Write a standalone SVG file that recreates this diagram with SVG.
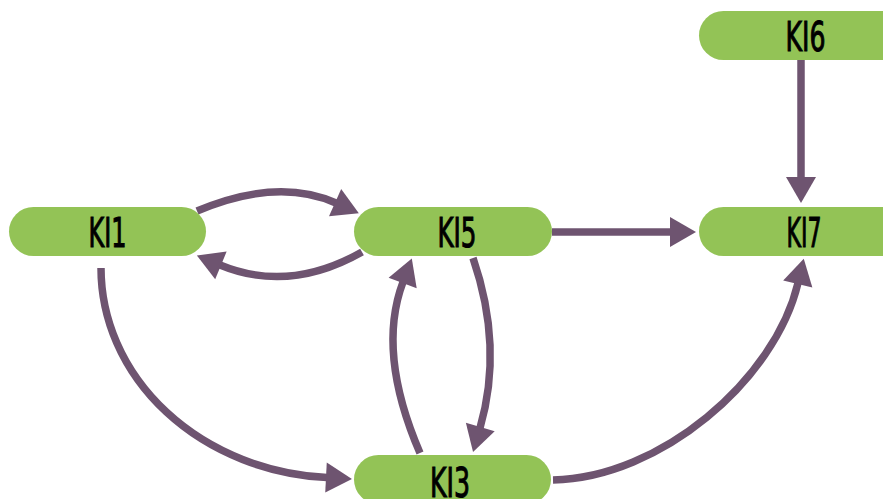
<svg xmlns="http://www.w3.org/2000/svg" width="883" height="499" viewBox="0 0 883 499">
<style>
.node rect{fill:#93c356;}
.node text{font-family:"DejaVu Sans Condensed","DejaVu Sans",sans-serif;font-size:40px;fill:#000;stroke:#000;stroke-width:1;text-anchor:middle;}
.edge{fill:none;stroke:#6e5470;stroke-width:7.5;}
</style>
<defs>
<marker id="arr" markerUnits="userSpaceOnUse" markerWidth="27" markerHeight="31" refX="1" refY="15" orient="auto" overflow="visible">
<path d="M0,0 L26,15 L0,30 z" fill="#6e5470"/>
</marker>
</defs>
<rect width="883" height="499" fill="#fff"/>
<g id="connectors">
<path class="edge" marker-end="url(#arr)" d="M197,211 Q277.5,177 336,203"/>
<path class="edge" marker-end="url(#arr)" d="M362,252 Q289,293.5 220,265"/>
<path class="edge" marker-end="url(#arr)" d="M552,232 L671,232"/>
<path class="edge" marker-end="url(#arr)" d="M801,60 L801,178"/>
<path class="edge" marker-end="url(#arr)" d="M101,268 A240,210 0 0 0 327,477.6"/>
<path class="edge" marker-end="url(#arr)" d="M420,453 Q376.5,352.5 403,282"/>
<path class="edge" marker-end="url(#arr)" d="M473,258 Q503.5,347 480,428"/>
<path class="edge" marker-end="url(#arr)" d="M553,480 C660,478 775,380 798,283"/>
</g>
<g id="KI1" class="node"><rect x="9" y="207" width="197" height="49" rx="24.5"/><text x="107.5" y="247" textLength="38" lengthAdjust="spacingAndGlyphs">KI1</text></g>
<g id="KI5" class="node"><rect x="354" y="207" width="198" height="49" rx="24.5"/><text x="457" y="247" textLength="39" lengthAdjust="spacingAndGlyphs">KI5</text></g>
<g id="KI6" class="node"><rect x="699" y="11" width="212" height="49" rx="24.5"/><text x="805.5" y="51" textLength="40" lengthAdjust="spacingAndGlyphs">KI6</text></g>
<g id="KI7" class="node"><rect x="699" y="207" width="212" height="49" rx="24.5"/><text x="804" y="247" textLength="35" lengthAdjust="spacingAndGlyphs">KI7</text></g>
<g id="KI3" class="node"><rect x="354" y="455" width="197" height="49" rx="24.5"/><text x="450" y="497" textLength="40" lengthAdjust="spacingAndGlyphs">KI3</text></g>
</svg>
